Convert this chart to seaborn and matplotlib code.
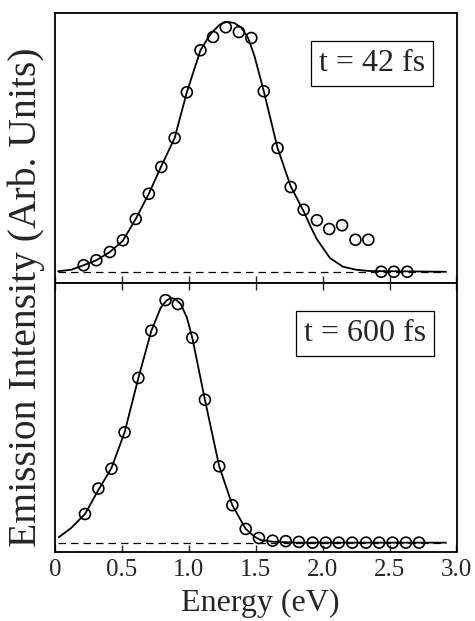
import numpy as np
import pandas as pd
import matplotlib
matplotlib.use("Agg")
import matplotlib.pyplot as plt
import seaborn as sns

# ---------------- data ----------------
# t = 42 fs : measured points
top_pts_x = [0.214, 0.309, 0.410, 0.507, 0.603, 0.701, 0.794, 0.894, 0.985, 1.087,
             1.181, 1.276, 1.374, 1.467, 1.560, 1.663, 1.761, 1.858, 1.957, 2.049,
             2.145, 2.245, 2.341, 2.438, 2.532, 2.632]
top_pts_y = [0.026, 0.046, 0.079, 0.126, 0.211, 0.312, 0.419, 0.535, 0.718, 0.886,
             0.939, 0.978, 0.959, 0.935, 0.722, 0.495, 0.339, 0.248, 0.206, 0.171,
             0.186, 0.128, 0.128, 0.0, 0.0, 0.0]
# t = 42 fs : fitted curve
top_fit_x = [0.023, 0.121, 0.214, 0.309, 0.410, 0.507, 0.603, 0.701, 0.794, 0.894,
             0.985, 1.087, 1.135, 1.173, 1.230, 1.283, 1.340, 1.394, 1.443, 1.491,
             1.560, 1.663, 1.761, 1.858, 1.910, 1.957, 2.054, 2.152, 2.250, 2.348, 2.920]
top_fit_y = [0.002, 0.008, 0.026, 0.046, 0.079, 0.124, 0.211, 0.312, 0.422, 0.535,
             0.718, 0.886, 0.928, 0.958, 0.988, 1.0, 0.995, 0.975, 0.935, 0.862,
             0.722, 0.495, 0.342, 0.242, 0.180, 0.130, 0.055, 0.020, 0.008, 0.003, 0.0]

# t = 600 fs : measured points
bot_pts_x = [0.224, 0.324, 0.422, 0.520, 0.623, 0.720, 0.826, 0.918, 1.026, 1.120,
             1.227, 1.325, 1.425, 1.524, 1.626, 1.724, 1.822, 1.925, 2.023, 2.120,
             2.221, 2.324, 2.422, 2.522, 2.622, 2.720]
bot_pts_y = [0.117, 0.221, 0.302, 0.451, 0.673, 0.866, 0.991, 0.975, 0.837, 0.584,
             0.312, 0.153, 0.056, 0.019, 0.008, 0.006, 0.003, 0.0, 0.0, 0.0,
             0.0, 0.0, 0.0, 0.0, 0.0, 0.0]
# t = 600 fs : fitted curve
bot_fit_x = [0.028, 0.121, 0.224, 0.324, 0.422, 0.520, 0.623, 0.720, 0.790, 0.835,
             0.867, 0.900, 0.940, 0.985, 1.026, 1.120, 1.227, 1.325, 1.425, 1.489,
             1.540, 1.626, 1.800, 2.920]
bot_fit_y = [0.022, 0.060, 0.117, 0.215, 0.305, 0.451, 0.673, 0.866, 0.960, 0.990,
             1.0, 0.995, 0.975, 0.920, 0.837, 0.584, 0.312, 0.153, 0.056, 0.025,
             0.010, 0.004, 0.0, 0.0]

baseline_x = [0.02, 2.92]
baseline_y = [0.0, 0.0]

panel_labels = ["t = 42 fs", "t = 600 fs"]
xtick_vals = [0, 0.5, 1.0, 1.5, 2.0, 2.5, 3.0]
xtick_labels = ["0", "0.5", "1.0", "1.5", "2.0", "2.5", "3.0"]
xlabel = "Energy (eV)"
ylabel = "Emission Intensity (Arb. Units)"

# ---------------- style ----------------
sns.set_style("ticks")
plt.rcParams["font.family"] = ["Liberation Serif", "DejaVu Serif"]
plt.rcParams["axes.linewidth"] = 1.3

W, H = 475, 621
fig = plt.figure(figsize=(W / 100, H / 100), dpi=100)

L, R = 55 / W, 456.5 / W
ax_top = fig.add_axes([L, 1 - 283 / H, R - L, (283 - 13) / H])
ax_bot = fig.add_axes([L, 1 - 551.7 / H, R - L, (551.7 - 283) / H])

panels = [
    (ax_top, top_pts_x, top_pts_y, top_fit_x, top_fit_y, (-0.045, 1.035), (0.789, 0.814)),
    (ax_bot, bot_pts_x, bot_pts_y, bot_fit_x, bot_fit_y, (-0.037, 1.061), (0.772, 0.813)),
]

for i, (ax, px, py, fx, fy, ylim, boxpos) in enumerate(panels):
    fit_df = pd.DataFrame({"E": fx, "I": fy})
    pts_df = pd.DataFrame({"E": px, "I": py})
    base_df = pd.DataFrame({"E": baseline_x, "I": baseline_y})
    sns.lineplot(data=base_df, x="E", y="I", ax=ax, color="black", lw=0.9,
                 linestyle=(0, (6, 4)), zorder=1)
    sns.lineplot(data=fit_df, x="E", y="I", ax=ax, color="black", lw=1.3, zorder=2)
    sns.scatterplot(data=pts_df, x="E", y="I", ax=ax, marker="o", s=62,
                    facecolor="none", edgecolor="black", linewidth=1.2, zorder=3)
    ax.set_xlim(0, 3.0)
    ax.set_ylim(*ylim)
    ax.set_yticks([])
    ax.set_xlabel("")
    ax.set_ylabel("")
    ax.set_xticks(xtick_vals)
    for s in ax.spines.values():
        s.set_visible(True)
        s.set_color("black")
    ax.text(boxpos[0], boxpos[1], panel_labels[i], transform=ax.transAxes,
            ha="center", va="center", fontsize=23,
            bbox=dict(boxstyle="square,pad=0.25", facecolor="white",
                      edgecolor="black", linewidth=0.9))

ax_top.tick_params(axis="x", direction="in", length=5, width=1.0,
                   bottom=True, top=False, labelbottom=False)
ax_bot.tick_params(axis="x", direction="in", length=5, width=1.0,
                   bottom=True, top=True, labelbottom=True, labelsize=18, pad=5)
ax_bot.set_xticklabels(xtick_labels)

fig.text(260 / W, 1 - 603 / H, xlabel, ha="center", va="center", fontsize=23)
fig.text(26 / W, 1 - 297 / H, ylabel, ha="center", va="center", rotation=90, fontsize=28.5)

fig.savefig("out.png", dpi=100)
